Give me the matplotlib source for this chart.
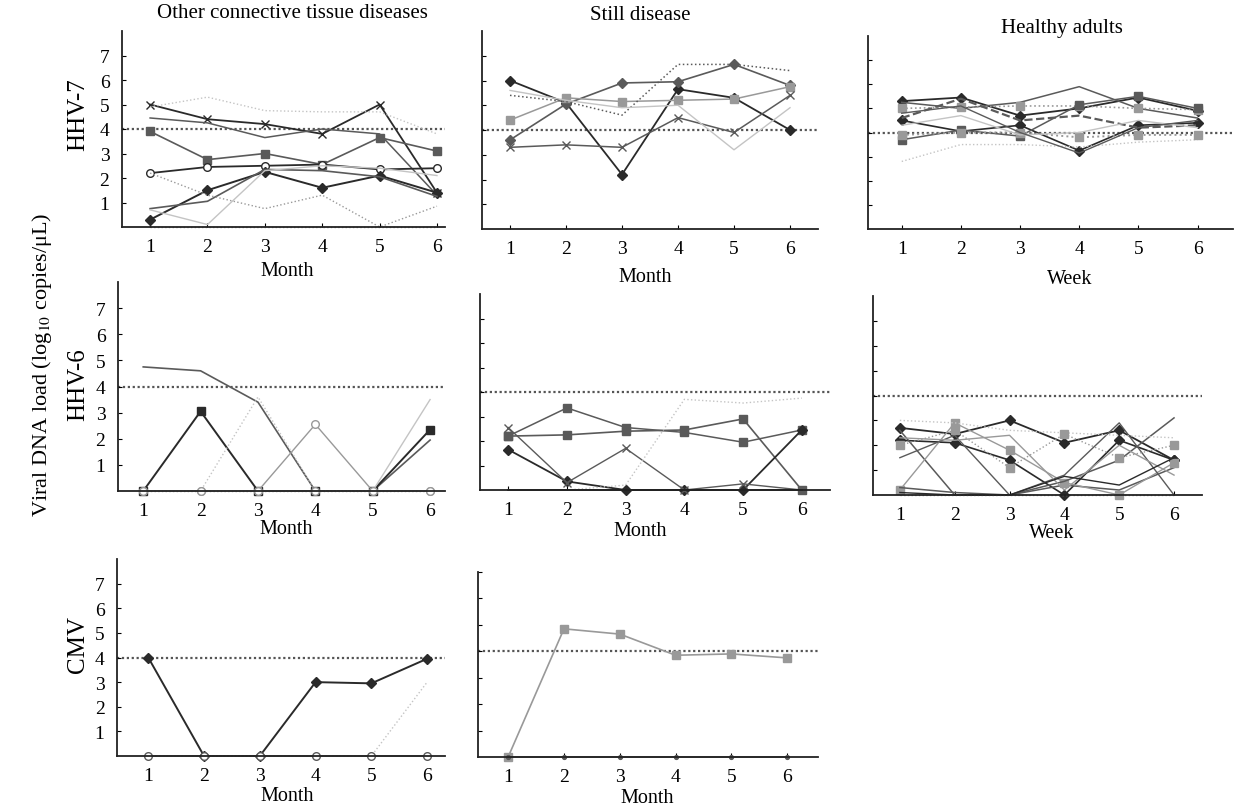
import matplotlib.pyplot as plt

plt.rcParams['font.family'] = ['Liberation Serif', 'DejaVu Serif']
plt.rcParams['mathtext.fontset'] = 'stix'

W, H = 1234, 812
months = [1, 2, 3, 4, 5, 6]
weeks = [1, 2, 3, 4, 5, 6]
threshold = 4

col_titles = ["Other connective tissue diseases", "Still disease", "Healthy adults"]
row_labels = ["HHV-7", "HHV-6", "CMV"]
y_label = "Viral DNA load (log$_{10}$ copies/μL)"

# ---- HHV-7 ----
ctd_hhv7 = [
    [5.0, 4.4, 4.2, 3.8, 5.0, 1.4],
    [4.45, 4.25, 3.65, 4.0, 3.8, 1.3],
    [4.9, 5.3, 4.75, 4.7, 4.7, 3.8],
    [3.9, 2.75, 3.0, 2.55, 3.65, 3.1],
    [2.2, 2.45, 2.5, 2.55, 2.35, 2.4],
    [0.3, 1.5, 2.25, 1.6, 2.1, 1.4],
    [0.75, 1.05, 2.35, 2.3, 2.05, 1.25],
    [2.2, 1.3, 0.75, 1.3, 0.0, 0.85],
    [0.7, 0.1, 2.3, 2.5, 2.4, 2.1],
    [0.0, 0.0, 0.0, 0.0, 0.0, 0.0],
]
still_hhv7 = [
    [6.0, 5.1, 2.2, 5.65, 5.3, 4.0],
    [3.6, 5.05, 5.9, 5.95, 6.65, 5.8],
    [4.4, 5.3, 5.15, 5.2, 5.25, 5.75],
    [5.4, 5.15, 4.6, 6.65, 6.65, 6.4],
    [3.3, 3.4, 3.3, 4.5, 3.9, 5.4],
    [5.6, 5.2, 4.9, 5.0, 3.2, 4.9],
]
healthy_hhv7 = [
    [5.3, 5.45, 4.7, 5.0, 5.45, 4.9],
    [5.25, 5.0, 5.25, 5.9, 5.0, 4.6],
    [5.0, 5.05, 5.1, 5.1, 5.0, 4.95],
    [4.5, 4.05, 4.3, 3.25, 4.3, 4.4],
    [4.6, 5.4, 4.5, 4.7, 4.2, 4.3],
    [3.7, 4.1, 3.85, 5.15, 5.5, 5.0],
    [2.8, 3.5, 3.5, 3.4, 3.6, 3.7],
    [3.9, 4.0, 4.0, 3.8, 3.9, 3.9],
    [4.3, 4.7, 3.9, 4.0, 4.5, 4.2],
    [4.8, 5.1, 4.0, 3.15, 4.2, 4.5],
]

# ---- HHV-6 ----
ctd_hhv6 = [
    [4.75, 4.6, 3.4, 0.0, 0.0, 1.95],
    [0.0, 3.05, 0.0, 0.0, 0.0, 2.35],
    [0.0, 0.0, 3.6, 0.0, 0.0, 0.0],
    [0.0, 0.0, 0.0, 2.55, 0.0, 0.0],
    [0.0, 0.0, 0.0, 0.0, 0.0, 3.5],
    [0.0, 0.0, 0.0, 0.0, 0.0, 0.0],
]
still_hhv6 = [
    [2.2, 3.35, 2.55, 2.35, 1.95, 2.45],
    [2.2, 2.25, 2.4, 2.45, 2.9, 0.0],
    [1.65, 0.35, 0.0, 0.0, 0.0, 2.45],
    [2.55, 0.3, 1.7, 0.0, 0.25, 0.0],
    [0.0, 0.0, 0.2, 3.7, 3.55, 3.75],
    [0.0, 0.0, 0.0, 0.0, 0.0, 0.0],
]
healthy_hhv6 = [
    [2.7, 2.45, 3.0, 2.1, 2.6, 1.4],
    [2.2, 2.1, 1.4, 0.0, 2.2, 1.4],
    [2.6, 0.0, 0.0, 0.4, 0.2, 1.1],
    [0.2, 2.9, 1.8, 0.5, 0.0, 1.3],
    [1.5, 2.4, 0.0, 0.8, 2.9, 0.0],
    [0.3, 0.1, 0.0, 0.55, 1.4, 3.1],
    [3.0, 2.9, 2.6, 2.5, 2.4, 2.3],
    [2.3, 2.2, 2.4, 0.2, 2.0, 0.8],
    [2.0, 2.6, 1.1, 2.45, 1.5, 2.0],
    [0.1, 0.0, 0.0, 0.75, 0.4, 1.5],
    [0.0, 0.0, 0.0, 0.0, 0.0, 0.0],
]

# ---- CMV ----
ctd_cmv = [
    [4.0, 0.0, 0.0, 3.0, 2.95, 3.95],
    [0.0, 0.0, 0.0, 0.0, 0.0, 3.0],
    [0.0, 0.0, 0.0, 0.0, 0.0, 0.0],
]
still_cmv = [
    [0.0, 4.85, 4.65, 3.85, 3.9, 3.75],
    [0.0, 0.0, 0.0, 0.0, 0.0, 0.0],
]

DK, MD, LT, VL = '#2a2a2a', '#5a5a5a', '#999999', '#c4c4c4'

# line styles: (color, marker, linewidth, linestyle)
sty_ctd_hhv7 = [(DK, 'x', 1.3, '-'), (MD, None, 1.1, '-'), (VL, None, 1.0, ':'),
                (MD, 's', 1.2, '-'), (DK, 'o', 1.3, '-'), (DK, 'D', 1.4, '-'),
                (MD, None, 1.2, '-'), (LT, None, 1.0, ':'), (VL, None, 1.0, '-'),
                (LT, None, 1.0, ':')]
sty_still_hhv7 = [(DK, 'D', 1.3, '-'), (MD, 'D', 1.2, '-'), (LT, 's', 1.1, '-'),
                  (MD, None, 1.1, ':'), (MD, 'x', 1.1, '-'), (VL, None, 1.0, '-')]
sty_healthy_hhv7 = [(DK, 'D', 1.3, '-'), (MD, None, 1.1, '-'), (LT, 's', 1.2, ':'),
                    (DK, 'D', 1.2, '-'), (MD, None, 1.6, '--'), (MD, 's', 1.1, '-'),
                    (VL, None, 1.0, ':'), (LT, 's', 1.4, ':'), (VL, None, 1.0, '-'),
                    (MD, None, 1.0, '-')]
sty_ctd_hhv6 = [(MD, None, 1.2, '-'), (DK, 's', 1.4, '-'), (VL, None, 1.0, ':'),
                (LT, 'o', 1.0, '-'), (VL, None, 1.0, '-'), (LT, 'o', 1.0, ':')]
sty_still_hhv6 = [(MD, 's', 1.1, '-'), (MD, 's', 1.2, '-'), (DK, 'D', 1.3, '-'),
                  (MD, 'x', 1.0, '-'), (VL, None, 1.0, ':'), (DK, None, 1.3, '-')]
sty_healthy_hhv6 = [(DK, 'D', 1.3, '-'), (DK, 'D', 1.2, '-'), (MD, None, 1.1, '-'),
                    (LT, 's', 1.0, '-'), (MD, None, 1.0, '-'), (MD, None, 1.1, '-'),
                    (VL, None, 1.0, ':'), (LT, None, 1.0, '-'), (LT, 's', 1.0, ':'),
                    (DK, None, 1.0, '-'), (LT, None, 1.0, ':')]
sty_ctd_cmv = [(DK, 'D', 1.4, '-'), (VL, None, 1.0, ':'), (MD, 'o', 1.1, '-')]
sty_still_cmv = [(LT, 's', 1.2, '-'), (MD, '.', 1.1, '-')]

# panel layout in pixels: left, right, y-bottom, y-top, xlim, ymax
panels = [
    (ctd_hhv7, sty_ctd_hhv7, months, (122, 445, 228, 32), (0.51, 6.14), 8, 0, 0),
    (still_hhv7, sty_still_hhv7, months, (482, 818, 230, 32), (0.5, 6.5), 8, 0, 1),
    (healthy_hhv7, sty_healthy_hhv7, weeks, (868, 1233, 230, 37), (0.43, 6.6), 8, 0, 2),
    (ctd_hhv6, sty_ctd_hhv6, months, (118, 445, 492, 283), (0.56, 6.26), 8, 1, 0),
    (still_hhv6, sty_still_hhv6, months, (480, 830, 491, 295), (0.52, 6.48), 8, 1, 1),
    (healthy_hhv6, sty_healthy_hhv6, weeks, (873, 1202, 496, 297), (0.51, 6.51), 8, 1, 2),
    (ctd_cmv, sty_ctd_cmv, months, (117, 445, 757, 560), (0.44, 6.32), 8, 2, 0),
    (still_cmv, sty_still_cmv, months, (478, 818, 758, 573), (0.46, 6.55), 7, 2, 1),
]

xlabels = {(0, 0): ("Month", 287, 272), (0, 1): ("Month", 645, 278), (0, 2): ("Week", 1070, 280),
           (1, 0): ("Month", 286, 530), (1, 1): ("Month", 640, 532), (1, 2): ("Week", 1052, 534),
           (2, 0): ("Month", 287, 797), (2, 1): ("Month", 647, 799)}

fig = plt.figure(figsize=(W / 100, H / 100), dpi=100)

for series, styles, xs, (l, r, yb, yt), xlim, ymax, row, col in panels:
    ax = fig.add_axes([l / W, 1 - yb / H, (r - l) / W, (yb - yt) / H])
    ax.plot(xlim, [threshold, threshold], color='#555555', lw=1.6,
            ls=(0, (1, 1.2)), zorder=1)
    for ys, (c, m, lw, ls) in zip(series, styles):
        mfc = 'white' if m == 'o' else c
        ax.plot(xs, ys, color=c, lw=lw, ls=ls, marker=m, ms=5.5, mfc=mfc,
                mec=c, mew=1.0, zorder=2, clip_on=False)
    ax.set_xlim(*xlim)
    ax.set_ylim(0, ymax)
    for s in ('top', 'right'):
        ax.spines[s].set_visible(False)
    for s in ('left', 'bottom'):
        ax.spines[s].set_linewidth(1.3)
        ax.spines[s].set_color('#222222')
    ax.set_xticks(xs)
    ax.set_yticks(range(1, ymax + 1) if ymax < 8 else range(1, 8))
    ax.tick_params(axis='x', direction='in', length=3, pad=8, labelsize=14)
    ax.tick_params(axis='y', direction='in', length=3, pad=9, labelsize=14,
                   labelleft=(col == 0))
    lbl, xc, yc = xlabels[(row, col)]
    fig.text(xc / W, 1 - yc / H, lbl, ha='center', va='center', fontsize=14.5)

fig.text(292 / W, 1 - 13 / H, col_titles[0], ha='center', va='center', fontsize=15)
fig.text(640 / W, 1 - 15 / H, col_titles[1], ha='center', va='center', fontsize=15)
fig.text(1062 / W, 1 - 28 / H, col_titles[2], ha='center', va='center', fontsize=15)

for lbl, yc in zip(row_labels, [115, 385, 645]):
    fig.text(78 / W, 1 - yc / H, lbl, rotation=90, ha='center', va='center', fontsize=18)
fig.text(42 / W, 1 - 365 / H, y_label, rotation=90, ha='center', va='center', fontsize=16)

fig.savefig("out.png", dpi=100)
